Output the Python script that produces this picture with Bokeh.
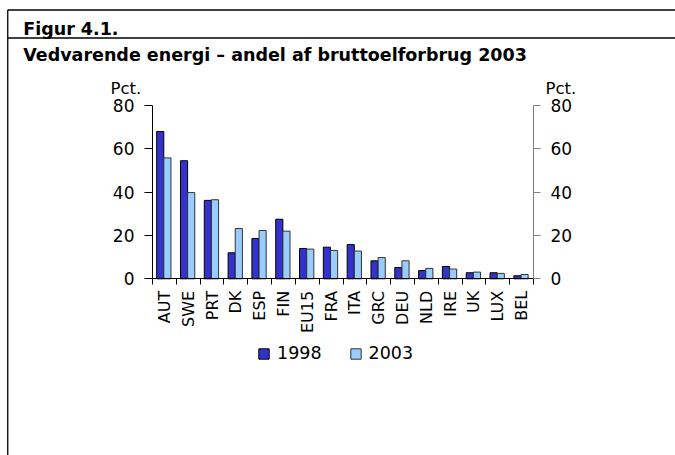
import math
from bokeh.plotting import figure
from bokeh.models import (ColumnDataSource, Range1d, LinearAxis, FixedTicker, Label,
                          Legend, LegendItem)
from bokeh.embed import file_html
from bokeh.resources import INLINE

# ---- data ----
categories = ["AUT", "SWE", "PRT", "DK", "ESP", "FIN", "EU15", "FRA", "ITA",
              "GRC", "DEU", "NLD", "IRE", "UK", "LUX", "BEL"]
v1998 = [68.0, 54.5, 36.2, 12.0, 18.6, 27.5, 14.0, 14.6, 15.8, 8.3, 5.2, 3.8, 5.7, 2.8, 2.8, 1.4]
v2003 = [55.8, 39.8, 36.5, 23.2, 22.3, 22.0, 13.7, 13.1, 12.8, 9.8, 8.3, 4.8, 4.5, 3.1, 2.5, 2.0]
series_names = ["1998", "2003"]
y_ticks = [0, 20, 40, 60, 80]
y_max = 80
title1 = "Figur 4.1."
title2 = "Vedvarende energi \u2013 andel af bruttoelforbrug 2003"
unit_label = "Pct."
colors = ["#3333CC", "#99CCFF"]
outlines = ["#000000", "#333333"]

# ---- layout (canvas pixels) ----
FONT = "DejaVu Sans"
W, H = 675, 455
CH_L, CH_R = 152, 533        # chart area left/right
Y_BOT, Y_TOP = 278.3, 105    # chart area bottom/top
LINE_W = 1.3

n = len(categories)
x_per = n / (CH_R - CH_L)
y_per = y_max / (Y_BOT - Y_TOP)
x_range = Range1d(-CH_L * x_per, n + (W - CH_R) * x_per)
y_range = Range1d(-(H - Y_BOT) * y_per, y_max + Y_TOP * y_per)

p = figure(width=W, height=H, output_backend="svg", toolbar_location=None,
           x_range=x_range, y_range=y_range, min_border=0,
           x_axis_location=None, y_axis_location=None)
p.title.visible = False
p.outline_line_color = None
p.xgrid.visible = False
p.ygrid.visible = False
p.background_fill_color = "white"
p.border_fill_color = "white"
p.extra_x_ranges = {"px": Range1d(0, W)}
p.extra_y_ranges = {"py": Range1d(H, 0)}

# ---- bars ----
idx = list(range(n))
src = ColumnDataSource(dict(
    x1=[i + 0.325 for i in idx],
    x2=[i + 0.625 for i in idx],
    v1998=v1998, v2003=v2003, cat=categories))
r1 = p.vbar(x="x1", top="v1998", width=0.30, source=src,
            fill_color=colors[0], line_color=outlines[0], line_width=1)
r2 = p.vbar(x="x2", top="v2003", width=0.30, source=src,
            fill_color=colors[1], line_color=outlines[1], line_width=1)


def style_axis(ax, color, tick_out, standoff, size):
    ax.axis_line_color = color
    ax.major_tick_line_color = color
    ax.major_tick_out = tick_out
    ax.major_tick_in = 0
    ax.minor_tick_line_color = None
    ax.major_label_standoff = standoff
    ax.major_label_text_font = FONT
    ax.major_label_text_font_size = size
    ax.major_label_text_color = "#000000"


yl = LinearAxis(ticker=FixedTicker(ticks=y_ticks), fixed_location=0, bounds=(0, y_max))
style_axis(yl, "#000000", 8, 10, "17px")
p.add_layout(yl, "left")

yr = LinearAxis(ticker=FixedTicker(ticks=y_ticks), fixed_location=n, bounds=(0, y_max))
style_axis(yr, "#808080", 7, 10, "17px")
p.add_layout(yr, "right")

centers = [i + 0.5 for i in idx]
xb = LinearAxis(ticker=FixedTicker(ticks=centers, minor_ticks=list(range(n + 1))),
                fixed_location=0, bounds=(0, n))
style_axis(xb, "#000000", 6, 6, "16px")
xb.major_tick_line_color = None
xb.minor_tick_line_color = "#000000"
xb.minor_tick_out = 6
xb.minor_tick_in = 0
xb.major_label_overrides = {c: lab_ for c, lab_ in zip(centers, categories)}
xb.major_label_orientation = math.pi / 2
p.add_layout(xb, "below")

# ---- legend ----
legend = Legend(items=[LegendItem(label=series_names[0], renderers=[r1]),
                       LegendItem(label=series_names[1], renderers=[r2])],
                orientation="horizontal", location=(257, H - 363),
                glyph_width=13, glyph_height=13, label_height=13,
                label_standoff=7, spacing=27, padding=0, margin=0,
                border_line_color=None, background_fill_alpha=0,
                label_text_font=FONT, label_text_font_size="17.5px",
                label_text_color="#000000")
p.add_layout(legend)


# ---- heading texts and document frame lines (canvas pixel ranges) ----
def lab(x, y, text, size, bold=False):
    p.add_layout(Label(x=x, y=y, x_range_name="px", y_range_name="py", text=text,
                       text_font=FONT, text_font_size=size,
                       text_font_style="bold" if bold else "normal",
                       text_color="#000000", text_baseline="alphabetic",
                       text_align="left"))


lab(22.7, 28.5, title1, "17.5px", True)
lab(22.7, 54.0, title2, "17.5px", True)
lab(110, 88, unit_label, "16.5px")
lab(545, 88, unit_label, "16.5px")

for xs, ys in (([7.25, W], [9.5, 9.5]), ([7.25, W], [37.5, 37.5]), ([7.25, 7.25], [9.5, H])):
    p.line(x=xs, y=ys, x_range_name="px", y_range_name="py",
           line_color="black", line_width=LINE_W)

open("out.html", "w").write(file_html(p, INLINE))
